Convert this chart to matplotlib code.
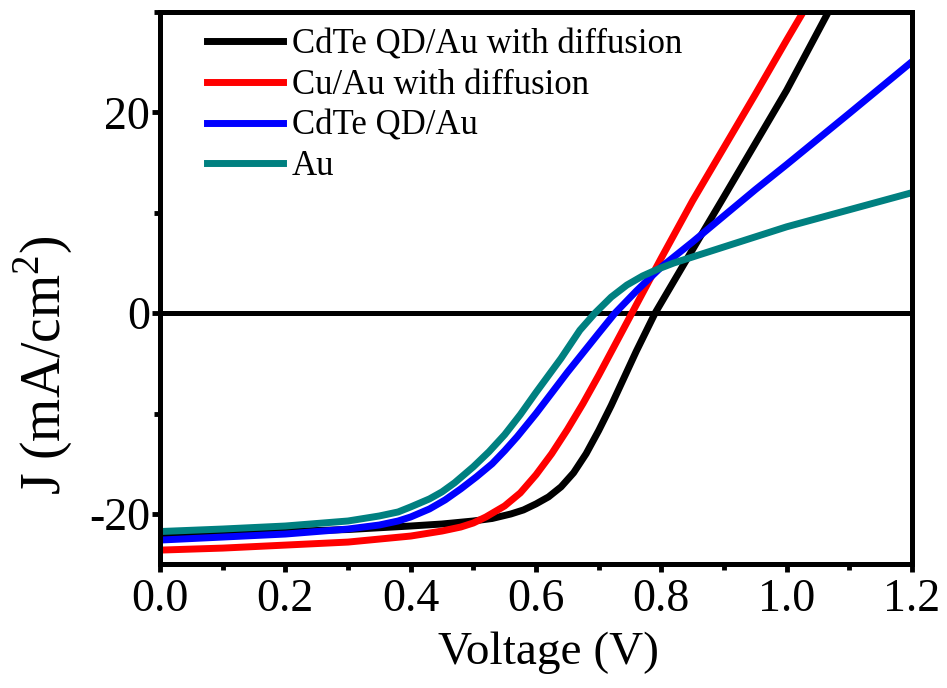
import matplotlib
matplotlib.use('Agg')
import matplotlib.pyplot as plt
from matplotlib.ticker import MultipleLocator, FormatStrFormatter

plt.rcParams['font.family'] = ['Liberation Serif', 'DejaVu Serif']
plt.rcParams['mathtext.fontset'] = 'custom'
plt.rcParams['mathtext.rm'] = 'Liberation Serif'
plt.rcParams['axes.unicode_minus'] = False

# J-V curves (V in volts, J in mA/cm2)
v_black = [0.0, 0.1, 0.2, 0.3, 0.4, 0.45, 0.5, 0.53, 0.56, 0.58, 0.6, 0.62, 0.64, 0.66, 0.68,
           0.70, 0.72, 0.74, 0.76, 0.79, 0.84, 0.9, 0.95, 1.0, 1.07]
j_black = [-22.1, -21.95, -21.75, -21.55, -21.2, -21.0, -20.7, -20.45, -20.0, -19.6, -19.0, -18.3,
           -17.3, -15.9, -14.0, -11.7, -9.2, -6.5, -3.8, 0.0, 5.3, 11.6, 16.9, 22.2, 30.4]

v_red = [0.0, 0.1, 0.2, 0.3, 0.4, 0.45, 0.48, 0.5, 0.52, 0.55, 0.575, 0.6, 0.625, 0.65, 0.675,
         0.7, 0.753, 0.8, 0.85, 0.9, 0.95, 1.0, 1.05]
j_red = [-23.6, -23.4, -23.1, -22.8, -22.2, -21.7, -21.3, -20.9, -20.3, -19.2, -17.9, -16.1, -14.0,
         -11.6, -9.0, -6.2, 0.0, 5.5, 11.2, 16.5, 21.8, 27.2, 32.5]

v_blue = [0.0, 0.1, 0.2, 0.3, 0.35, 0.38, 0.4, 0.43, 0.455, 0.48, 0.505, 0.53, 0.55, 0.57, 0.6,
          0.65, 0.7, 0.726, 0.76, 0.8, 0.85, 0.9, 0.95, 1.0, 1.1, 1.2]
j_blue = [-22.6, -22.3, -22.0, -21.5, -21.1, -20.7, -20.3, -19.5, -18.6, -17.5, -16.3, -15.0, -13.7,
          -12.3, -10.0, -5.9, -2.0, 0.0, 2.2, 4.6, 7.1, 9.7, 12.3, 14.8, 19.9, 25.05]

v_teal = [0.0, 0.1, 0.2, 0.3, 0.35, 0.38, 0.4, 0.43, 0.45, 0.47, 0.5, 0.525, 0.55, 0.575, 0.6,
          0.62, 0.64, 0.67, 0.694, 0.72, 0.745, 0.77, 0.795, 0.82, 0.85, 0.88, 0.95, 1.0, 1.1, 1.2]
j_teal = [-21.75, -21.5, -21.2, -20.7, -20.2, -19.8, -19.3, -18.5, -17.8, -16.9, -15.3, -13.8, -12.1,
          -10.1, -7.9, -6.2, -4.5, -1.7, 0.0, 1.6, 2.8, 3.7, 4.4, 5.0, 5.6, 6.2, 7.6, 8.6, 10.3, 12.0]

labels = ['CdTe QD/Au with diffusion', 'Cu/Au with diffusion', 'CdTe QD/Au', 'Au']
colors = ['#000000', '#ff0000', '#0000ff', '#008080']

fig = plt.figure(figsize=(9.47, 6.88), dpi=100)
ax = fig.add_axes([0.169, 0.180, 0.794, 0.8026])

series = [(v_black, j_black), (v_red, j_red), (v_blue, j_blue), (v_teal, j_teal)]
for (v, j), lab, c in zip(series, labels, colors):
    ax.plot(v, j, color=c, lw=5, label=lab, solid_joinstyle='round')

ax.axhline(0, color='black', lw=3.6, zorder=1)

ax.set_xlim(0, 1.2)
ax.set_ylim(-25, 30)
ax.xaxis.set_major_locator(MultipleLocator(0.2))
ax.xaxis.set_minor_locator(MultipleLocator(0.1))
ax.yaxis.set_major_locator(MultipleLocator(20))
ax.yaxis.set_minor_locator(MultipleLocator(10))
ax.xaxis.set_major_formatter(FormatStrFormatter('%.1f'))

for s in ax.spines.values():
    s.set_linewidth(3.6)
ax.tick_params(which='major', direction='out', length=6, width=3.5, labelsize=33, pad=4)
ax.tick_params(which='minor', direction='out', length=4, width=3.5)
ax.tick_params(axis='y', which='major', pad=1)

ax.set_xlabel('Voltage (V)', fontsize=34)
ax.xaxis.set_label_coords(0.517, -0.122)
ax.set_ylabel('J (mA/cm$^\\mathregular{2}$)', fontsize=40)
ax.yaxis.set_label_coords(-0.113, 0.36)

leg = ax.legend(loc='upper left', bbox_to_anchor=(0.03, 1.014), frameon=False,
                fontsize=25, handlelength=2.2, handletextpad=0.25, labelspacing=0.22,
                borderaxespad=0.3)
for h in leg.get_lines():
    h.set_linewidth(5)

fig.savefig('out.png', dpi=100)
